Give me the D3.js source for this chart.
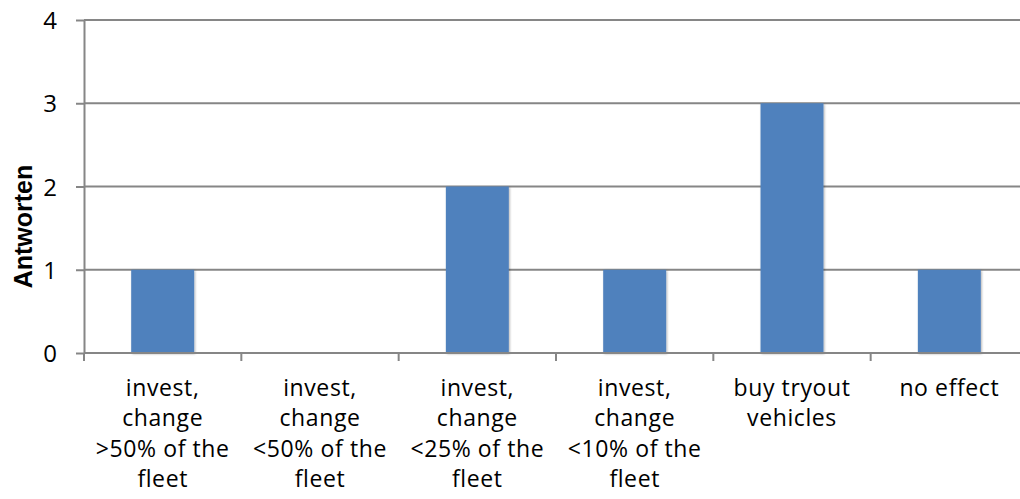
<!DOCTYPE html>
<html>
<head>
<meta charset="utf-8">
<script src="https://cdn.jsdelivr.net/npm/d3@7"></script>
<style>
  body { margin: 0; background: #fff; }
  svg { display: block; }
  .tick text { font-family: "Open Sans", sans-serif; fill: #000; }
</style>
</head>
<body>
<div id="container"></div>
<script>
const categories = [
  ["invest,", "change", ">50% of the", "fleet"],
  ["invest,", "change", "<50% of the", "fleet"],
  ["invest,", "change", "<25% of the", "fleet"],
  ["invest,", "change", "<10% of the", "fleet"],
  ["buy tryout", "vehicles"],
  ["no effect"]
];
const answers = [1, 0, 2, 1, 3, 1];
const yTicks = [0, 1, 2, 3, 4];
const yTitle = "Antworten";

const width = 1020;
const height = 499;
const margin = { top: 20, right: -8, bottom: 146, left: 84 };

const svg = d3.select("#container").append("svg")
  .attr("width", width)
  .attr("height", height);

const keys = categories.map((c, i) => i);

const x = d3.scaleBand()
  .domain(keys)
  .range([margin.left, width - margin.right])
  .padding(0);

const y = d3.scaleLinear()
  .domain([0, 4])
  .range([height - margin.bottom, margin.top]);

const defs = svg.append("defs");
const shadow = defs.append("filter").attr("id", "shadow")
  .attr("x", "-20%").attr("y", "-20%").attr("width", "140%").attr("height", "140%");
shadow.append("feDropShadow")
  .attr("dx", 1).attr("dy", 1).attr("stdDeviation", 1.2)
  .attr("flood-color", "#000").attr("flood-opacity", 0.3);

// horizontal gridlines
svg.append("g")
  .selectAll("line")
  .data(yTicks.filter(d => d > 0))
  .enter().append("line")
  .attr("x1", margin.left)
  .attr("x2", width)
  .attr("y1", d => y(d))
  .attr("y2", d => y(d))
  .attr("stroke", "#868686")
  .attr("stroke-width", 2);

// bars
const barW = x.bandwidth() * 0.4;
svg.append("g")
  .selectAll("rect")
  .data(answers)
  .enter().append("rect")
  .attr("x", (d, i) => x(i) + (x.bandwidth() - barW) / 2)
  .attr("y", d => y(d))
  .attr("width", barW)
  .attr("height", d => y(0) - y(d))
  .attr("fill", "#4f81bd")
  .attr("filter", "url(#shadow)");

// y axis
const yAxis = svg.append("g")
  .attr("transform", `translate(${margin.left},0)`)
  .call(d3.axisLeft(y).tickValues(yTicks).tickFormat(d3.format("d"))
    .tickSize(8).tickPadding(19).tickSizeOuter(0));
yAxis.select(".domain").attr("stroke", "#868686").attr("stroke-width", 2);
yAxis.selectAll(".tick line").attr("stroke", "#868686").attr("stroke-width", 2);
yAxis.selectAll(".tick text").style("font-size", "24px").attr("dy", "0.36em");

// x axis
const xAxis = svg.append("g")
  .attr("transform", `translate(0,${y(0)})`)
  .call(d3.axisBottom(x).tickSize(0).tickFormat(""));
xAxis.select(".domain").attr("stroke", "#868686").attr("stroke-width", 2)
  .attr("d", `M${margin.left},0H${width}`);

// category boundary ticks
svg.append("g")
  .selectAll("line")
  .data(keys.concat([keys.length]))
  .enter().append("line")
  .attr("x1", d => margin.left + d * x.step())
  .attr("x2", d => margin.left + d * x.step())
  .attr("y1", y(0))
  .attr("y2", y(0) + 8)
  .attr("stroke", "#868686")
  .attr("stroke-width", 2);

// category labels
const labels = svg.append("g")
  .selectAll("text")
  .data(categories)
  .enter().append("text")
  .attr("text-anchor", "middle")
  .attr("x", (d, i) => x(i) + x.bandwidth() / 2)
  .attr("y", y(0) + 43)
  .style("font-family", "\"Open Sans\", sans-serif")
  .style("font-size", "23px")
  .style("letter-spacing", "0.6px")
  .attr("fill", "#000");
labels.selectAll("tspan")
  .data(d => d)
  .enter().append("tspan")
  .attr("x", function () { return this.parentNode.getAttribute("x"); })
  .attr("dy", (d, i) => i === 0 ? 0 : 30.3)
  .text(d => d);

// y axis title
svg.append("text")
  .attr("transform", `translate(32,${(y(0) + y(4)) / 2 + 40}) rotate(-90)`)
  .attr("text-anchor", "middle")
  .style("font-family", "\"Liberation Sans\", Arial, sans-serif")
  .style("font-weight", "bold")
  .style("font-size", "25px")
  .text(yTitle);
</script>
</body>
</html>
